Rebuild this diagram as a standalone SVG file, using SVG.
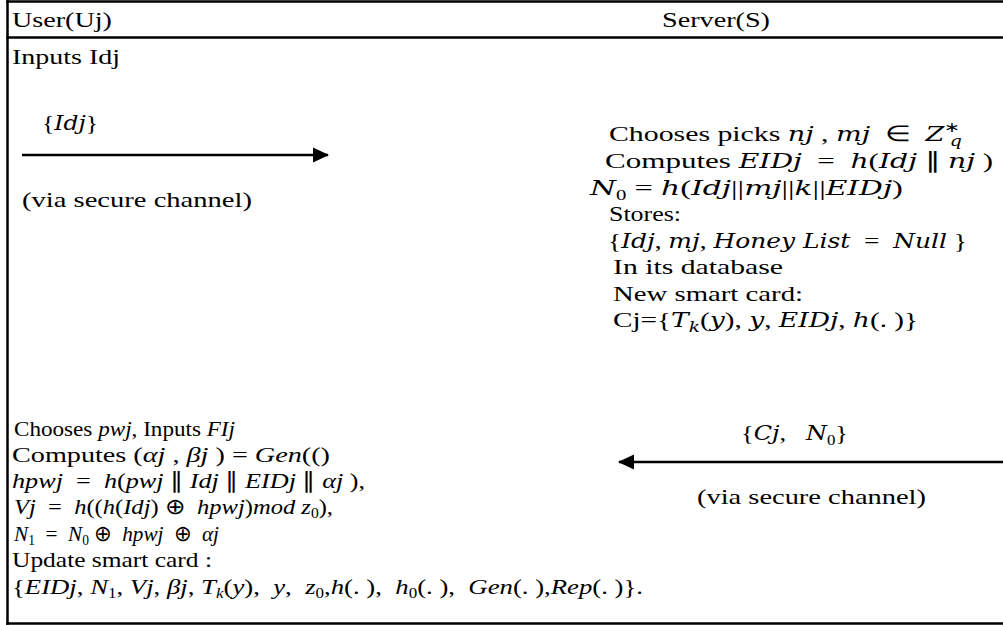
<svg xmlns="http://www.w3.org/2000/svg" width="1003" height="625" viewBox="0 0 1003 625">
<style>
text{font-family:"Liberation Serif","Times New Roman",serif;font-size:22px;fill:#000;white-space:pre}
.m{font-family:"DejaVu Serif","Liberation Serif",serif;font-style:italic;font-size:20px}
.mi{font-style:italic}
.s{font-size:14px}
.frame line{stroke:#000;stroke-width:2.5}
.conn line{stroke:#000;stroke-width:2.5;fill:none}
</style>
<defs>
<marker id="ah" markerUnits="userSpaceOnUse" markerWidth="16" markerHeight="16" viewBox="0 0 16 16" refX="15" refY="8" orient="auto">
<path d="M0,0.5 L16,8 L0,15.5 z" fill="#000"/>
</marker>
</defs>
<rect width="1003" height="625" fill="#fff"/>
<g class="frame" id="table">
<line x1="7.5" y1="0.3" x2="7.5" y2="624.7"/>
<line x1="6.2" y1="1.5" x2="1003" y2="1.5"/>
<line x1="6.2" y1="37.5" x2="1003" y2="37.5"/>
<line x1="6.2" y1="623.5" x2="1003" y2="623.5"/>
</g>
<g id="header">
<text x="12" y="27" textLength="100" lengthAdjust="spacingAndGlyphs">User(Uj)</text>
<text x="662" y="27" textLength="108" lengthAdjust="spacingAndGlyphs">Server(S)</text>
</g>
<g id="user-register">
<text x="12" y="64" textLength="108" lengthAdjust="spacingAndGlyphs">Inputs Idj</text>
<text x="42" y="130" textLength="56" lengthAdjust="spacingAndGlyphs">{<tspan class="m">Idj</tspan>}</text>
<text x="22" y="207" textLength="230" lengthAdjust="spacingAndGlyphs">(via secure channel)</text>
</g>
<g id="server-register">
<text x="609" y="141" textLength="353" lengthAdjust="spacingAndGlyphs">Chooses picks <tspan class="m">nj</tspan> , <tspan class="m">mj</tspan>  ∈  <tspan class="m">Z</tspan><tspan class="s" dy="-9">∗</tspan><tspan class="s m" dx="-8" dy="14">q</tspan></text>
<text x="605" y="168" textLength="388" lengthAdjust="spacingAndGlyphs">Computes <tspan class="m">EIDj</tspan>  =  <tspan class="m">h</tspan>(<tspan class="m">Idj</tspan> ∥ <tspan class="m">nj</tspan> )</text>
<text x="590" y="195" textLength="313" lengthAdjust="spacingAndGlyphs"><tspan class="m">N</tspan><tspan class="s" dy="5">0</tspan><tspan dy="-5"> = </tspan><tspan class="m">h</tspan>(<tspan class="m">Idj</tspan>||<tspan class="m">mj</tspan>||<tspan class="m">k</tspan>||<tspan class="m">EIDj</tspan>)</text>
<text x="609" y="221" textLength="72" lengthAdjust="spacingAndGlyphs">Stores:</text>
<text x="608" y="248" textLength="359" lengthAdjust="spacingAndGlyphs">{<tspan class="m">Idj</tspan>, <tspan class="m">mj</tspan>, <tspan class="m">Honey List</tspan>  =  <tspan class="m">Null</tspan> }</text>
<text x="613" y="274" textLength="170" lengthAdjust="spacingAndGlyphs">In its database</text>
<text x="613" y="301" textLength="190" lengthAdjust="spacingAndGlyphs">New smart card:</text>
<text x="613" y="327" textLength="305" lengthAdjust="spacingAndGlyphs">Cj={<tspan class="m">T</tspan><tspan class="s m" dy="5">k</tspan><tspan dy="-5">(</tspan><tspan class="m">y</tspan>), <tspan class="m">y</tspan>, <tspan class="m">EIDj</tspan>, <tspan class="m">h</tspan>(. )}</text>
</g>
<g id="server-reply">
<text x="741" y="440" textLength="107" lengthAdjust="spacingAndGlyphs">{<tspan class="m">Cj</tspan>,   <tspan class="m">N</tspan><tspan class="s" dy="5">0</tspan><tspan dy="-5">}</tspan></text>
<text x="697" y="504" textLength="229" lengthAdjust="spacingAndGlyphs">(via secure channel)</text>
</g>
<g id="user-update">
<text x="14" y="436" textLength="221" lengthAdjust="spacingAndGlyphs">Chooses <tspan class="mi">pwj</tspan>, Inputs <tspan class="mi">FIj</tspan></text>
<text x="12" y="462" textLength="318" lengthAdjust="spacingAndGlyphs">Computes (<tspan class="mi">αj</tspan> , <tspan class="mi">βj</tspan> ) = <tspan class="mi">Gen</tspan>(()</text>
<text x="12" y="488" textLength="353" lengthAdjust="spacingAndGlyphs"><tspan class="mi">hpwj</tspan>  =  <tspan class="mi">h</tspan>(<tspan class="mi">pwj</tspan> ∥ <tspan class="mi">Idj</tspan> ∥ <tspan class="mi">EIDj</tspan> ∥ <tspan class="mi">αj</tspan> ),</text>
<text x="14" y="514" textLength="319" lengthAdjust="spacingAndGlyphs"><tspan class="mi">Vj</tspan>  =  <tspan class="mi">h</tspan>((<tspan class="mi">h</tspan>(<tspan class="mi">Idj</tspan>) ⊕  <tspan class="mi">hpwj</tspan>)<tspan class="mi">mod z</tspan><tspan class="s" dy="4">0</tspan><tspan dy="-4">),</tspan></text>
<text x="14" y="541" textLength="205" lengthAdjust="spacingAndGlyphs"><tspan class="mi">N</tspan><tspan class="s" dy="4">1</tspan><tspan dy="-4">  =  </tspan><tspan class="mi">N</tspan><tspan class="s" dy="4">0</tspan><tspan dy="-4"> ⊕  </tspan><tspan class="mi">hpwj</tspan>  ⊕  <tspan class="mi">αj</tspan></text>
<text x="12" y="567" textLength="200" lengthAdjust="spacingAndGlyphs">Update smart card :</text>
<text x="12" y="594" textLength="631" lengthAdjust="spacingAndGlyphs">{<tspan class="mi">EIDj</tspan>, <tspan class="mi">N</tspan><tspan class="s" dy="4">1</tspan><tspan dy="-4">, </tspan><tspan class="mi">Vj</tspan>, <tspan class="mi">βj</tspan>, <tspan class="mi">T</tspan><tspan class="s mi" dy="4">k</tspan><tspan dy="-4">(</tspan><tspan class="mi">y</tspan>),  <tspan class="mi">y</tspan>,  <tspan class="mi">z</tspan><tspan class="s" dy="4">0</tspan><tspan dy="-4">,</tspan><tspan class="mi">h</tspan>(. ),  <tspan class="mi">h</tspan><tspan class="s" dy="4">0</tspan><tspan dy="-4">(. ),  </tspan><tspan class="mi">Gen</tspan>(. ),<tspan class="mi">Rep</tspan>(. )}.</text>
</g>
<g class="conn" id="connectors">
<line x1="22" y1="155" x2="328" y2="155" marker-end="url(#ah)"/>
<line x1="1003" y1="462" x2="619" y2="462" marker-end="url(#ah)"/>
</g>
</svg>
